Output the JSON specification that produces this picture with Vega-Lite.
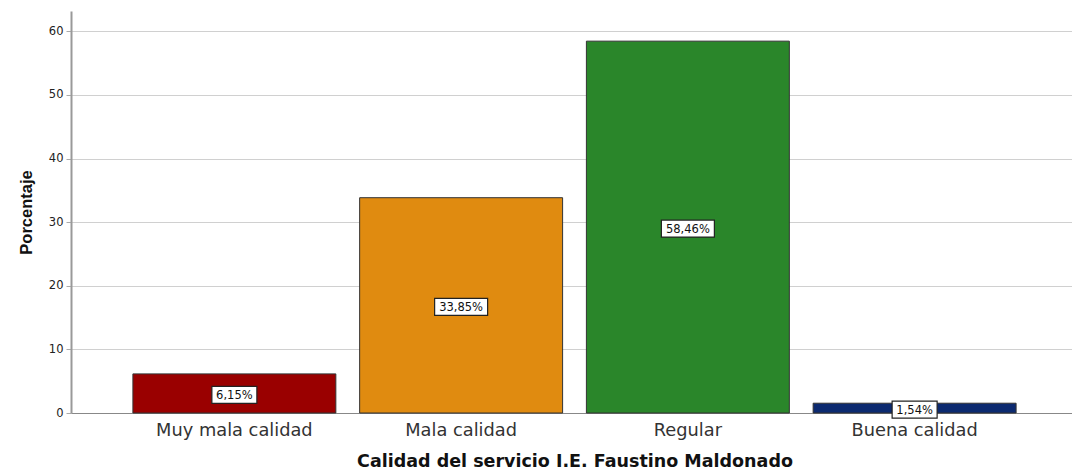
{
  "$schema": "https://vega.github.io/schema/vega-lite/v6.json",
  "width": 999,
  "height": 402,
  "autosize": "none",
  "padding": {"left": 71, "top": 11, "right": 2, "bottom": 57},
  "background": "white",
  "config": {"view": {"stroke": null}, "font": "DejaVu Sans"},
  "data": {"values": [
    {"cat": "Muy mala calidad", "pct": 6.15, "label": "6,15%"},
    {"cat": "Mala calidad", "pct": 33.85, "label": "33,85%"},
    {"cat": "Regular", "pct": 58.46, "label": "58,46%"},
    {"cat": "Buena calidad", "pct": 1.54, "label": "1,54%"}
  ]},
  "encoding": {
    "x": {"field": "cat", "type": "nominal", "sort": null,
      "scale": {"paddingInner": 0.105, "paddingOuter": 0.273, "range": [0, 1007]},
      "axis": {"title": "Calidad del servicio I.E. Faustino Maldonado", "labelAngle": 0, "labelFont": "DejaVu Sans", "labelFontSize": 17.8, "labelColor": "#333", "labelPadding": 8, "ticks": false, "domainColor": "#888", "domainWidth": 1, "titleFont": "DejaVu Sans", "titleFontSize": 17.5, "titleFontWeight": "bold", "titleColor": "#111", "titlePadding": 14}}
  },
  "layer": [
    {
      "layer": [
        {
          "mark": {"type": "bar", "stroke": "#333", "strokeWidth": 1},
          "encoding": {
            "y": {"field": "pct", "type": "quantitative", "scale": {"domain": [0, 63.2], "nice": false},
              "axis": {"title": "Porcentaje", "values": [0, 10, 20, 30, 40, 50, 60], "labelFont": "DejaVu Sans", "labelFontSize": 11.5, "labelColor": "#222", "tickColor": "#aaa", "tickSize": 5, "labelPadding": 3, "domainColor": "#999", "domainWidth": 2, "gridColor": "#d0d0d0", "titleFont": "Liberation Sans", "titleFontSize": 16.5, "titleFontWeight": "bold", "titleColor": "#111", "titlePadding": 14}},
            "color": {"field": "cat", "type": "nominal", "sort": null, "legend": null,
              "scale": {"domain": ["Muy mala calidad", "Mala calidad", "Regular", "Buena calidad"], "range": ["#9a0000", "#e08b10", "#2a862a", "#0c2a70"]}}
          }
        }
      ]
    },
    {
      "encoding": {
        "y": {"field": "pct", "type": "quantitative", "scale": {"domain": [0, 126.4], "nice": false}, "axis": null}
      },
      "layer": [
        {
          "transform": [{"filter": "length(datum.label) == 5"}],
          "mark": {"type": "bar", "width": 45, "fill": "white", "stroke": "#222", "strokeWidth": 1.2, "yOffset": -7, "y2Offset": 10},
          "encoding": {"y2": {"field": "pct"}}
        },
        {
          "transform": [{"filter": "length(datum.label) == 6"}],
          "mark": {"type": "bar", "width": 53, "fill": "white", "stroke": "#222", "strokeWidth": 1.2, "yOffset": -7, "y2Offset": 10},
          "encoding": {"y2": {"field": "pct"}}
        },
        {
          "mark": {"type": "text", "font": "DejaVu Sans", "fontSize": 11.5, "color": "#111", "baseline": "middle", "dy": 2.5},
          "encoding": {"text": {"field": "label"}}
        }
      ]
    }
  ],
  "resolve": {"scale": {"y": "independent"}}
}
